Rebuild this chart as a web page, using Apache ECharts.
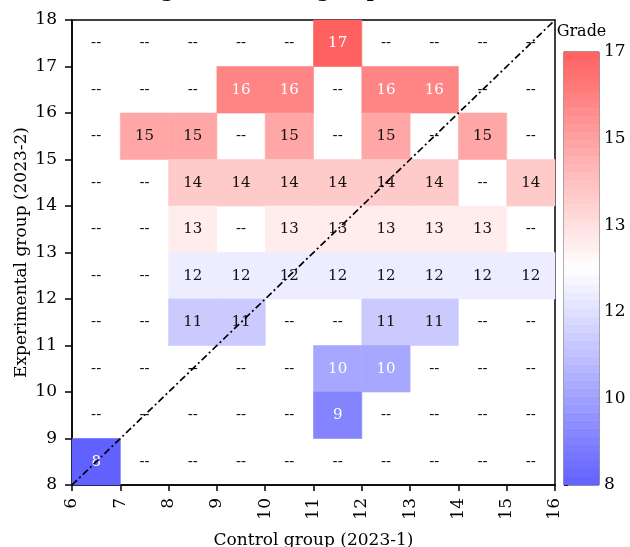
<!DOCTYPE html>
<html>
<head>
<meta charset="utf-8">
<script src="https://cdn.jsdelivr.net/npm/echarts@6/dist/echarts.min.js"></script>
<style>html,body{margin:0;padding:0;background:#fff}#c{width:630px;height:547px}</style>
</head>
<body>
<div id="c"></div>
<script>
// ---- data ----
const titleText = 'Grade changes of the two groups';
const xName = 'Control group (2023-1)';
const yName = 'Experimental group (2023-2)';
const cbName = 'Grade';
// column starts (control grade) and row starts (experimental grade, top to bottom)
const xStarts = [6, 7, 8, 9, 10, 11, 12, 13, 14, 15];
const yStarts = [17, 16, 15, 14, 13, 12, 11, 10, 9, 8];
// grade shown in each cell, null = "--"
const row17 = [null, null, null, null, null, 17, null, null, null, null];
const row16 = [null, null, null, 16, 16, null, 16, 16, null, null];
const row15 = [null, 15, 15, null, 15, null, 15, null, 15, null];
const row14 = [null, null, 14, 14, 14, 14, 14, 14, null, 14];
const row13 = [null, null, 13, null, 13, 13, 13, 13, 13, null];
const row12 = [null, null, 12, 12, 12, 12, 12, 12, 12, 12];
const row11 = [null, null, 11, 11, null, null, 11, 11, null, null];
const row10 = [null, null, null, null, null, 10, 10, null, null, null];
const row9  = [null, null, null, null, null, 9, null, null, null, null];
const row8  = [8, null, null, null, null, null, null, null, null, null];
const gradeRows = [row17, row16, row15, row14, row13, row12, row11, row10, row9, row8];
const diagonal = [[6, 8], [16, 18]];
const colorMin = 8, colorMax = 17;
const cbTickLabels = ['8', '10', '12', '13', '15', '17'];

// ---- colormap (bwr, alpha-blended on white) ----
const cLow = [97, 97, 255], cMid = [255, 255, 255], cHigh = [255, 97, 97];
function cmapRGB(v) {
  let t = (v - colorMin) / (colorMax - colorMin);
  t = Math.max(0, Math.min(1, t));
  let a, b, f;
  if (t < 0.5) { a = cLow; b = cMid; f = t / 0.5; } else { a = cMid; b = cHigh; f = (t - 0.5) / 0.5; }
  return [0, 1, 2].map(i => Math.round(a[i] + (b[i] - a[i]) * f));
}
function rgbStr(c) { return 'rgb(' + c.join(',') + ')'; }
function lum(c) {
  const l = c.map(x => { x /= 255; return x <= 0.03928 ? x / 12.92 : Math.pow((x + 0.055) / 1.055, 2.4); });
  return 0.2126 * l[0] + 0.7152 * l[1] + 0.0722 * l[2];
}

const cells = [];
yStarts.forEach((y, r) => xStarts.forEach((x, c) => cells.push({ x: x, y: y, v: gradeRows[r][c] })));

const cbBands = [];
const nBands = 54;
for (let i = 0; i < nBands; i++) cbBands.push(i);

const FONT = 'DejaVu Serif';
const chart = echarts.init(document.getElementById('c'), null, { renderer: 'canvas' });
chart.setOption({
  animation: false,
  backgroundColor: '#fff',
  title: {
    text: titleText, left: 39, top: -17, padding: 0,
    textStyle: { fontFamily: FONT, fontWeight: 'bold', fontSize: 19, color: '#000' }
  },
  grid: [
    { left: 72, top: 20, width: 483, height: 465, show: true, borderColor: '#000', borderWidth: 1.5, backgroundColor: 'transparent', containLabel: false, outerBoundsMode: 'none' },
    { left: 564, top: 52, width: 35, height: 433, show: true, borderColor: '#333', borderWidth: 1, backgroundColor: 'transparent', containLabel: false, outerBoundsMode: 'none' }
  ],
  xAxis: [
    {
      gridIndex: 0, type: 'value', min: 6, max: 16, interval: 1, position: 'bottom',
      name: xName, nameLocation: 'middle', nameGap: 47, nameMoveOverlap: false,
      nameTextStyle: { fontFamily: FONT, fontSize: 17, color: '#000' },
      axisLine: { show: true, lineStyle: { color: '#000', width: 1.5 } },
      axisTick: { show: true, inside: false, length: 6, lineStyle: { color: '#000', width: 1.5 } },
      axisLabel: { rotate: 90, margin: 13, fontFamily: FONT, fontSize: 17, color: '#000' },
      splitLine: { show: false }
    },
    {
      gridIndex: 1, type: 'value', min: 0, max: 1, position: 'top',
      name: cbName, nameLocation: 'middle', nameGap: 12, nameMoveOverlap: false,
      nameTextStyle: { fontFamily: FONT, fontSize: 16, color: '#000' },
      axisLine: { show: false }, axisTick: { show: false }, axisLabel: { show: false }, splitLine: { show: false }
    }
  ],
  yAxis: [
    {
      gridIndex: 0, type: 'value', min: 8, max: 18, interval: 1, position: 'left',
      name: yName, nameLocation: 'middle', nameGap: 42, nameMoveOverlap: false,
      nameTextStyle: { fontFamily: FONT, fontSize: 17, color: '#000' },
      axisLine: { show: true, lineStyle: { color: '#000', width: 1.5 } },
      axisTick: { show: true, inside: false, length: 7, lineStyle: { color: '#000', width: 1.5 } },
      axisLabel: { margin: 15, fontFamily: FONT, fontSize: 17, color: '#000' },
      splitLine: { show: false }
    },
    {
      gridIndex: 1, type: 'value', min: 0, max: 5, interval: 1, position: 'right',
      axisLine: { show: true, lineStyle: { color: '#333', width: 1 } },
      axisTick: { show: true, inside: false, length: 4, lineStyle: { color: '#000', width: 1 } },
      axisLabel: { margin: 5, fontFamily: FONT, fontSize: 17, color: '#000', formatter: v => cbTickLabels[Math.round(v)] },
      splitLine: { show: false }
    }
  ],
  series: [
    {
      type: 'custom', xAxisIndex: 0, yAxisIndex: 0, z: 2,
      data: cells.map(c => [c.x, c.y]),
      renderItem: function (params, api) {
        const cell = cells[params.dataIndex];
        const x = api.value(0), y = api.value(1);
        const p0 = api.coord([x, y + 1]);
        const p1 = api.coord([x + 1, y]);
        const cx = (p0[0] + p1[0]) / 2, cy = (p0[1] + p1[1]) / 2;
        const children = [];
        let txtColor = '#111';
        if (cell.v !== null) {
          const col = cmapRGB(cell.v);
          children.push({
            type: 'rect',
            shape: { x: p0[0], y: p0[1], width: p1[0] - p0[0], height: p1[1] - p0[1] },
            style: { fill: rgbStr(col), stroke: rgbStr(col), lineWidth: 0.6 }
          });
          if (lum(col) < 0.47) txtColor = '#fff';
        }
        children.push({
          type: 'text', z2: 10,
          style: {
            text: cell.v === null ? '--' : String(cell.v), x: cx, y: cy,
            align: 'center', verticalAlign: 'middle', textAlign: 'center', textVerticalAlign: 'middle',
            fill: txtColor, fontFamily: FONT, fontSize: 15
          }
        });
        return { type: 'group', children: children };
      }
    },
    {
      type: 'line', xAxisIndex: 0, yAxisIndex: 0, z: 5, data: diagonal,
      symbol: 'none', silent: true,
      lineStyle: { color: '#000', width: 1.7, type: [7, 3, 2, 3] }
    },
    {
      type: 'custom', xAxisIndex: 1, yAxisIndex: 1, z: 1,
      data: cbBands.map(i => [i]),
      renderItem: function (params, api) {
        const i = api.value(0);
        const p0 = api.coord([0, (i + 1) * 5 / nBands]);
        const p1 = api.coord([1, i * 5 / nBands]);
        const v = colorMin + (colorMax - colorMin) * (i + 0.5) / nBands;
        const col = rgbStr(cmapRGB(v));
        return {
          type: 'rect',
          shape: { x: p0[0], y: p0[1], width: p1[0] - p0[0], height: p1[1] - p0[1] },
          style: { fill: col, stroke: col, lineWidth: 0.5 }
        };
      }
    }
  ]
});
</script>
</body>
</html>
